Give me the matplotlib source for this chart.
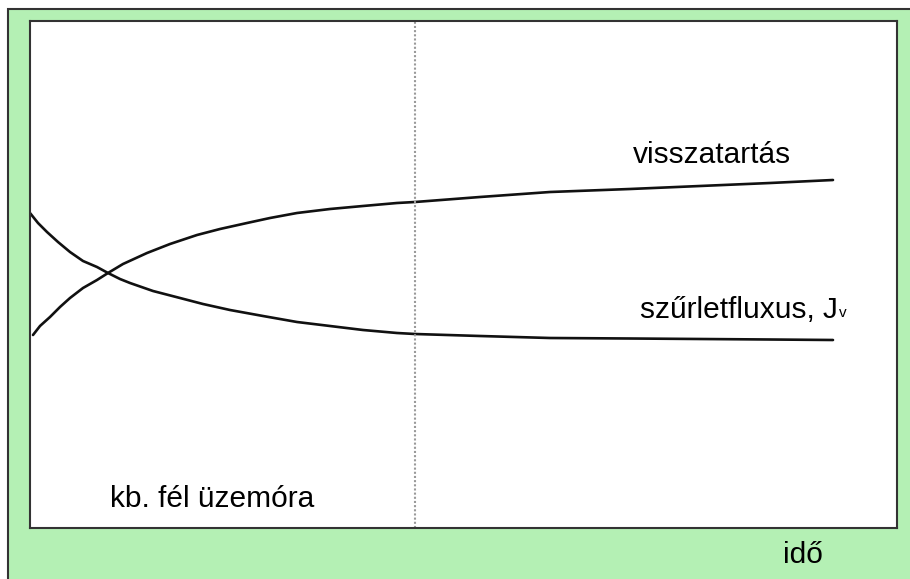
import matplotlib
matplotlib.use("Agg")
import matplotlib.pyplot as plt
from matplotlib.patches import Rectangle

# Data (arbitrary units: time, value)
t_ret = [3, 10, 20, 30, 40, 53, 67, 78, 93, 117, 140, 167, 190, 217, 240, 267, 300,
         333, 367, 385, 450, 520, 600, 670, 740, 803]
v_ret = [193, 202, 211, 221, 230, 240, 248, 255, 264, 275, 284, 293, 299, 305, 310, 315, 319,
         322, 325, 326, 331, 336, 339, 342, 345, 348]
t_flux = [0, 8, 17, 28, 40, 53, 67, 78, 90, 100, 123, 150, 173, 200, 233, 267, 300,
          333, 367, 385, 450, 520, 600, 670, 740, 803]
v_flux = [315, 305, 296, 286, 276, 267, 261, 255, 249, 245, 237, 230, 224, 218, 212, 206, 202,
          198, 195, 194, 192, 190, 189.5, 189, 188.5, 188]
t_marker = 385

label_ret = "visszatartás"
label_flux = "szűrletfluxus, J"
label_flux_sub = "v"
label_half = "kb. fél üzemóra"
label_time = "idő"

W, H = 910, 579
fig = plt.figure(figsize=(W / 100, H / 100), dpi=100)
fig.patch.set_facecolor("white")
green = "#b4f0b4"

# outer green panel
fig.patches.append(Rectangle((8 / W, -0.1), 2, 1 - 9 / H + 0.1, transform=fig.transFigure,
                             facecolor=green, edgecolor="#333333", linewidth=1.5, zorder=-10))

ax = fig.add_axes([30 / W, (H - 528) / H, (897 - 30) / W, (528 - 21) / H])
ax.set_zorder(5)
ax.set_facecolor("white")
ax.set_xlim(0, 867)
ax.set_ylim(0, 507)
for s in ax.spines.values():
    s.set_linewidth(1.5)
    s.set_color("#333333")
ax.set_xticks([])
ax.set_yticks([])

ax.plot(t_ret, v_ret, color="#111111", lw=1.9, solid_capstyle="round", solid_joinstyle="round")
ax.plot(t_flux, v_flux, color="#111111", lw=1.9, solid_capstyle="round", solid_joinstyle="round")
ax.axvline(t_marker, color="#9a9a9a", lw=1.5, linestyle=(0, (1, 1)))

font = "Liberation Sans"
fs = 21.5
ax.text(603, 373, label_ret, fontsize=fs, family=font, ha="left", va="center")
tf = ax.text(610, 218, label_flux, fontsize=fs, family=font, ha="left", va="center")
ax.annotate(label_flux_sub, xy=(1, 0), xycoords=tf, xytext=(1, 3), textcoords="offset points",
            fontsize=11, family=font, ha="left", va="bottom")
ax.text(80, 29, label_half, fontsize=fs, family=font, ha="left", va="center")
fig.text(783 / W, 1 - 555 / H, label_time, fontsize=fs, family=font, ha="left", va="center")

fig.savefig("out.png", dpi=100, facecolor=fig.get_facecolor())
